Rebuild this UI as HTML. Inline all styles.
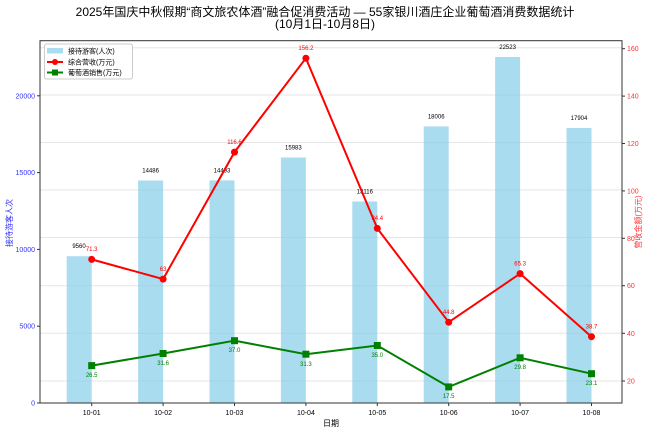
<!DOCTYPE html>
<html><head><meta charset="utf-8"><style>
body{margin:0;background:#fff}
svg text{font-family:"Liberation Sans","Noto Sans CJK SC",sans-serif}
</style></head><body>
<svg width="650" height="430" viewBox="0 0 650 430" xmlns="http://www.w3.org/2000/svg">
<rect width="650" height="430" fill="#fff"/>
<text x="325" y="16" font-size="12" text-anchor="middle" fill="#000">2025年国庆中秋假期“商文旅农体酒”融合促消费活动 — 55家银川酒庄企业葡萄酒消费数据统计</text>
<text x="325" y="28" font-size="12" text-anchor="middle" fill="#000">(10月1日-10月8日)</text>
<g stroke="#e6e6e6" stroke-width="1">
<line x1="40" x2="622" y1="47.7" y2="47.7"/><line x1="40" x2="622" y1="95" y2="95"/><line x1="40" x2="622" y1="142.5" y2="142.5"/><line x1="40" x2="622" y1="190" y2="190"/><line x1="40" x2="622" y1="237.5" y2="237.5"/><line x1="40" x2="622" y1="285.7" y2="285.7"/><line x1="40" x2="622" y1="333.3" y2="333.3"/><line x1="40" x2="622" y1="381" y2="381"/>
</g>
<g fill="#87CEEB" opacity="0.7">
<rect x="66.7" y="256.2" width="25" height="146.8"/>
<rect x="138.1" y="180.5" width="25" height="222.5"/>
<rect x="209.5" y="180.4" width="25" height="222.6"/>
<rect x="280.9" y="157.5" width="25" height="245.5"/>
<rect x="352.3" y="201.5" width="25" height="201.5"/>
<rect x="423.7" y="126.4" width="25" height="276.6"/>
<rect x="495.1" y="57" width="25" height="346"/>
<rect x="566.5" y="128" width="25" height="275"/>
</g>
<g font-size="6" fill="#000" text-anchor="middle">
<text x="79" y="248">9560</text><text x="150.6" y="172.5">14486</text><text x="222" y="172.5">14493</text><text x="293.4" y="149.5">15983</text><text x="364.8" y="193.5">13116</text><text x="436.2" y="118.5">18006</text><text x="507.6" y="49">22523</text><text x="579" y="120">17904</text>
</g>
<polyline fill="none" stroke="#f00" stroke-width="2" points="91.7,259.4 163.1,279.1 234.5,152.1 305.9,58.2 377.3,228.4 448.7,322.2 520.1,273.6 591.5,336.7"/>
<g fill="#f00">
<circle cx="91.7" cy="259.4" r="3.5"/><circle cx="163.1" cy="279.1" r="3.5"/><circle cx="234.5" cy="152.1" r="3.5"/><circle cx="305.9" cy="58.2" r="3.5"/><circle cx="377.3" cy="228.4" r="3.5"/><circle cx="448.7" cy="322.2" r="3.5"/><circle cx="520.1" cy="273.6" r="3.5"/><circle cx="591.5" cy="336.7" r="3.5"/>
</g>
<g font-size="6" fill="#f00" text-anchor="middle">
<text x="91.7" y="251">71.3</text><text x="163.1" y="271">63</text><text x="234.5" y="144">116.6</text><text x="305.9" y="50">156.2</text><text x="377.3" y="220">84.4</text><text x="448.7" y="314">44.8</text><text x="520.1" y="265.5">65.3</text><text x="591.5" y="328.5">38.7</text>
</g>
<polyline fill="none" stroke="#008000" stroke-width="2" points="91.7,365.6 163.1,353.5 234.5,340.7 305.9,354.2 377.3,345.5 448.7,386.9 520.1,357.8 591.5,373.7"/>
<g fill="#008000">
<rect x="88.2" y="362.1" width="7" height="7"/><rect x="159.6" y="350" width="7" height="7"/><rect x="231" y="337.2" width="7" height="7"/><rect x="302.4" y="350.7" width="7" height="7"/><rect x="373.8" y="342" width="7" height="7"/><rect x="445.2" y="383.4" width="7" height="7"/><rect x="516.6" y="354.3" width="7" height="7"/><rect x="588" y="370.2" width="7" height="7"/>
</g>
<g font-size="6" fill="#008000" text-anchor="middle">
<text x="91.7" y="377">26.5</text><text x="163.1" y="365">31.6</text><text x="234.5" y="352">37.0</text><text x="305.9" y="366">31.3</text><text x="377.3" y="357">35.0</text><text x="448.7" y="398">17.5</text><text x="520.1" y="369">29.8</text><text x="591.5" y="385">23.1</text>
</g>
<rect x="40" y="40.7" width="582" height="362.3" fill="none" stroke="#333" stroke-width="1"/>
<g stroke="#333">
<line x1="37" x2="40" y1="403" y2="403"/><line x1="37" x2="40" y1="326.2" y2="326.2"/><line x1="37" x2="40" y1="249.4" y2="249.4"/><line x1="37" x2="40" y1="172.6" y2="172.6"/><line x1="37" x2="40" y1="95.8" y2="95.8"/>
<line x1="622" x2="625" y1="381" y2="381"/><line x1="622" x2="625" y1="333.3" y2="333.3"/><line x1="622" x2="625" y1="285.7" y2="285.7"/><line x1="622" x2="625" y1="238.3" y2="238.3"/><line x1="622" x2="625" y1="190.9" y2="190.9"/><line x1="622" x2="625" y1="143.5" y2="143.5"/><line x1="622" x2="625" y1="96.1" y2="96.1"/><line x1="622" x2="625" y1="48.7" y2="48.7"/>
<line x1="91.7" x2="91.7" y1="403" y2="406"/><line x1="163.1" x2="163.1" y1="403" y2="406"/><line x1="234.5" x2="234.5" y1="403" y2="406"/><line x1="305.9" x2="305.9" y1="403" y2="406"/><line x1="377.3" x2="377.3" y1="403" y2="406"/><line x1="448.7" x2="448.7" y1="403" y2="406"/><line x1="520.1" x2="520.1" y1="403" y2="406"/><line x1="591.5" x2="591.5" y1="403" y2="406"/>
</g>
<g font-size="7" fill="#3333ff" text-anchor="end">
<text x="35" y="405.5">0</text><text x="35" y="328.7">5000</text><text x="35" y="251.9">10000</text><text x="35" y="175.1">15000</text><text x="35" y="98.3">20000</text>
</g>
<g font-size="7" fill="#ff3333">
<text x="627" y="383.5">20</text><text x="627" y="335.8">40</text><text x="627" y="288.2">60</text><text x="627" y="240.8">80</text><text x="627" y="193.4">100</text><text x="627" y="146">120</text><text x="627" y="98.6">140</text><text x="627" y="51.2">160</text>
</g>
<g font-size="7" fill="#000" text-anchor="middle">
<text x="91.7" y="415">10-01</text><text x="163.1" y="415">10-02</text><text x="234.5" y="415">10-03</text><text x="305.9" y="415">10-04</text><text x="377.3" y="415">10-05</text><text x="448.7" y="415">10-06</text><text x="520.1" y="415">10-07</text><text x="591.5" y="415">10-08</text>
</g>
<text x="331" y="426" font-size="8" text-anchor="middle" fill="#000">日期</text>
<text transform="translate(12,223) rotate(-90)" font-size="8" text-anchor="middle" fill="#3333ff">接待游客人次</text>
<text transform="translate(641,222) rotate(-90)" font-size="8" text-anchor="middle" fill="#ff3333">营收金额(万元)</text>
<rect x="44.5" y="44" width="88" height="35" fill="#fff" fill-opacity="0.85" stroke="#ccc" rx="2"/>
<rect x="47" y="48" width="16" height="5.5" fill="#87CEEB" opacity="0.7"/>
<text x="68" y="53.5" font-size="7" fill="#000">接待游客(人次)</text>
<line x1="47" x2="63" y1="62" y2="62" stroke="#f00" stroke-width="2"/><circle cx="55" cy="62" r="3" fill="#f00"/>
<text x="68" y="64.5" font-size="7" fill="#000">综合营收(万元)</text>
<line x1="47" x2="63" y1="72.5" y2="72.5" stroke="#008000" stroke-width="2"/><rect x="52" y="69.5" width="6" height="6" fill="#008000"/>
<text x="68" y="75" font-size="7" fill="#000">葡萄酒销售(万元)</text>
</svg>
</body></html>
